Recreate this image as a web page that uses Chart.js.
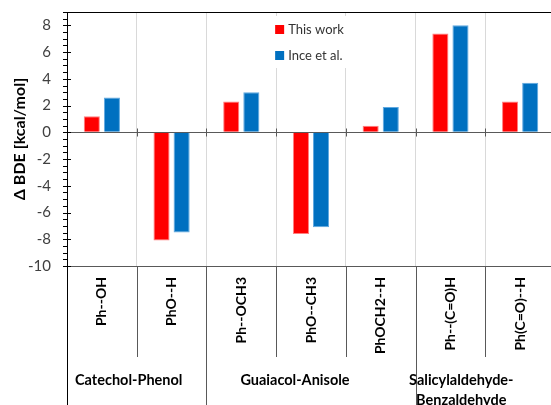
<!DOCTYPE html>
<html>
<head>
<meta charset="utf-8">
<script src="https://cdn.jsdelivr.net/npm/chart.js@4/dist/chart.umd.min.js"></script>
<style>
  html, body { margin: 0; padding: 0; background: #ffffff; }
  #wrap { width: 551px; height: 405px; overflow: hidden; position: relative; }
  canvas { display: block; }
</style>
</head>
<body>
<div id="wrap"><canvas id="c" width="555" height="405"></canvas></div>
<script>
// ---- data ----
const categories = ['Ph--OH', 'PhO--H', 'Ph--OCH3', 'PhO--CH3', 'PhOCH2--H', 'Ph--(C=O)H', 'Ph(C=O)--H'];
const thisWork = [1.2, -8.1, 2.3, -7.6, 0.5, 7.4, 2.3];
const inceEtAl = [2.6, -7.5, 3.0, -7.1, 1.9, 8.0, 3.7];
const seriesNames = ['This work', 'Ince et al.'];
const groupNames = [['Catechol-Phenol'], ['Guaiacol-Anisole'], ['Salicylaldehyde-', 'Benzaldehyde']];
const groupSizes = [2, 3, 2];
const yTickValues = [-10, -8, -6, -4, -2, 0, 2, 4, 6, 8];
const yMin = -10, yMax = 9, yMinorStep = 0.5;

const FONT = 'Lato, "Open Sans", sans-serif';

const decor = {
  id: 'decor',
  afterDraw(chart) {
    const ctx = chart.ctx;
    const ca = chart.chartArea;
    const y = chart.scales.y;
    const n = categories.length;
    const step = (ca.right - ca.left) / n;
    const edge = i => ca.left + i * step;
    ctx.save();
    ctx.lineWidth = 1;
    // top border
    ctx.strokeStyle = '#000000';
    ctx.beginPath();
    ctx.moveTo(ca.left, Math.round(ca.top) + 0.5);
    ctx.lineTo(ca.right, Math.round(ca.top) + 0.5);
    ctx.stroke();
    // y axis line extended downward
    ctx.beginPath();
    ctx.moveTo(Math.round(ca.left) + 0.5, ca.bottom);
    ctx.lineTo(Math.round(ca.left) + 0.5, chart.height);
    ctx.stroke();
    // y ticks (major cross, minor outside)
    for (let v = yMin; v <= yMax + 1e-9; v += yMinorStep) {
      const py = Math.round(y.getPixelForValue(v)) + 0.5;
      const major = yTickValues.includes(v);
      ctx.beginPath();
      ctx.moveTo(ca.left - 4, py);
      ctx.lineTo(ca.left + (major ? 4 : 0), py);
      ctx.stroke();
    }
    // separators below the axis
    let idx = 0;
    const groupEnds = new Set();
    groupSizes.forEach(s => { idx += s; groupEnds.add(idx); });
    ctx.strokeStyle = '#595959';
    for (let i = 1; i < n; i++) {
      const px = Math.round(edge(i)) + 0.5;
      ctx.beginPath();
      ctx.moveTo(px, ca.bottom);
      ctx.lineTo(px, groupEnds.has(i) ? chart.height : ca.bottom + 91);
      ctx.stroke();
    }
    // ticks on zero line
    const py0 = Math.round(y.getPixelForValue(0)) + 0.5;
    for (let i = 1; i < n; i++) {
      const px = Math.round(edge(i)) + 0.5;
      ctx.beginPath();
      ctx.moveTo(px, py0 - 4);
      ctx.lineTo(px, py0 + 4);
      ctx.stroke();
    }
    // group labels
    ctx.fillStyle = '#000000';
    ctx.font = 'bold 14.5px ' + FONT;
    ctx.textAlign = 'center';
    ctx.textBaseline = 'middle';
    let start = 0;
    groupSizes.forEach((s, gi) => {
      const cx = (edge(start) + edge(start + s)) / 2 - 8 * (gi + 1);
      groupNames[gi].forEach((line, li) => {
        ctx.fillText(line, cx, ca.bottom + 114 + li * 20);
      });
      start += s;
    });
    // legend (inside plot area)
    const ds = chart.data.datasets;
    const lx = edge(3) - 2;
    ctx.fillStyle = '#ffffff';
    ctx.fillRect(lx - 2, ca.top + 4, 78, 52);
    ctx.font = '13px ' + FONT;
    ctx.textAlign = 'left';
    ds.forEach((d, i) => {
      const cy = ca.top + 17.5 + i * 26;
      ctx.fillStyle = d.backgroundColor;
      ctx.fillRect(lx + 1, cy - 4.5, 9, 9);
      ctx.fillStyle = '#333333';
      ctx.fillText(d.label, lx + 14, cy);
    });
    ctx.restore();
  }
};

new Chart(document.getElementById('c'), {
  type: 'bar',
  data: {
    labels: categories,
    datasets: [
      { label: seriesNames[0], data: thisWork, backgroundColor: '#ff0000', borderColor: '#ff7f7f', borderWidth: 1 },
      { label: seriesNames[1], data: inceEtAl, backgroundColor: '#0070c0', borderColor: '#5fa8e0', borderWidth: 1 }
    ]
  },
  options: {
    responsive: false,
    animation: false,
    layout: { padding: { top: 12, right: 0, left: 0, bottom: 0 } },
    datasets: { bar: { categoryPercentage: 0.577, barPercentage: 0.8 } },
    plugins: { legend: { display: false }, tooltip: { enabled: false } },
    scales: {
      x: {
        grid: {
          display: true, offset: true, drawTicks: false, lineWidth: 1,
          color: ctx => (ctx.type !== 'tick' || ctx.index === 0 ? 'rgba(0,0,0,0)' : '#d9d9d9')
        },
        border: { display: true, color: '#595959' },
        ticks: {
          autoSkip: false, minRotation: 90, maxRotation: 90, padding: 11,
          color: '#000000', font: { family: FONT, size: 14, weight: 'bold' }
        },
        afterFit(scale) {
          scale.height = 139;
          scale.paddingLeft = 0; scale.paddingRight = 0;
          scale.paddingTop = 0; scale.paddingBottom = 0;
        }
      },
      y: {
        min: yMin, max: yMax,
        afterBuildTicks(scale) { scale.ticks = yTickValues.map(v => ({ value: v })); },
        grid: {
          drawTicks: false,
          color: ctx => (ctx.tick && ctx.tick.value === 0 ? '#595959' : 'rgba(0,0,0,0)')
        },
        border: { display: true, color: '#000000' },
        ticks: { padding: 16, color: '#404040', font: { family: FONT, size: 15 } },
        title: {
          display: true, text: 'Δ BDE [kcal/mol]', color: '#000000',
          font: { family: FONT, size: 16, weight: 'bold' }, padding: { top: 10, bottom: 0 }
        },
        afterFit(scale) {
          scale.width = 67;
          scale.paddingTop = 0; scale.paddingBottom = 0;
          scale.paddingLeft = 0; scale.paddingRight = 0;
        }
      }
    }
  },
  plugins: [decor]
});
</script>
</body>
</html>
